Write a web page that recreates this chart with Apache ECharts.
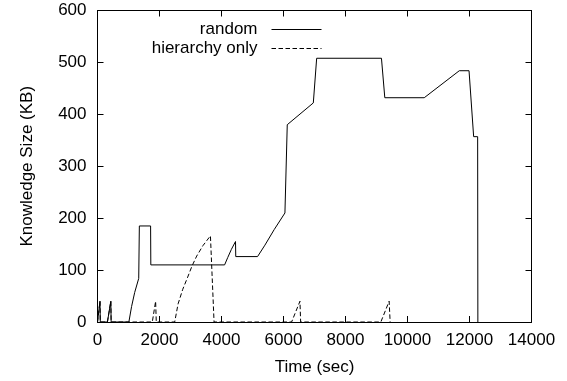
<!DOCTYPE html>
<html>
<head>
<meta charset="utf-8">
<script src="https://cdn.jsdelivr.net/npm/echarts@6/dist/echarts.min.js"></script>
<style>
html,body{margin:0;padding:0;background:#fff;}
#c{width:567px;height:381px;}
</style>
</head>
<body>
<div id="c"></div>
<script>
const xTicks = [0, 2000, 4000, 6000, 8000, 10000, 12000, 14000];
const yTicks = [0, 100, 200, 300, 400, 500, 600];

const randomTime = [0, 80, 90, 320, 430, 440, 1012, 1100, 1200, 1330, 1350, 1713, 1720, 4100, 4200, 4320, 4452, 4460, 5163, 5400, 5700, 6046, 6121, 6962, 7070, 9160, 9268, 10540, 11671, 11985, 12134, 12263, 12270];
const randomSize = [0, 40, 0, 0, 40, 0, 0, 30, 57, 84, 185, 185, 110, 110, 124, 140, 155, 126, 126, 148, 178, 210, 380, 422, 508, 508, 432, 432, 484, 484, 357, 357, 0];

const hierTime = [0, 80, 90, 320, 430, 440, 1768, 1875, 1896, 2490, 2600, 2750, 2900, 3050, 3200, 3400, 3643, 3760, 6262, 6531, 6553, 9140, 9408, 9440];
const hierSize = [0, 40, 0, 0, 40, 0, 0, 40, 0, 0, 35, 63, 85, 108, 127, 147, 166, 0, 0, 40, 0, 0, 40, 0];

const FONT = 'Liberation Sans';
const pair = (xs, ys) => xs.map((x, i) => [x, ys[i]]);
const plain = v => String(v);

const chart = echarts.init(document.getElementById('c'), null, {renderer: 'canvas'});
const tickCommon = {show: true, inside: true, length: 6, lineStyle: {color: '#000', width: 1}};
const lineCommon = {show: true, onZero: false, lineStyle: {color: '#000', width: 1}};
chart.setOption({
  animation: false,
  backgroundColor: '#fff',
  grid: {left: 97.5, right: 35.5, top: 10.5, bottom: 56.5, containLabel: false},
  legend: {
    orient: 'vertical',
    right: 245,
    top: 21,
    padding: 0,
    align: 'right',
    itemWidth: 50,
    itemHeight: 17,
    itemGap: 2,
    itemStyle: {opacity: 0},
    lineStyle: {width: 1},
    textStyle: {fontFamily: FONT, fontSize: 17, color: '#000', padding: [0, 9, 0, 0]},
    data: ['random', 'hierarchy only']
  },
  xAxis: [{
    type: 'value', min: xTicks[0], max: xTicks[xTicks.length - 1], interval: 2000, z: 10,
    name: 'Time (sec)', nameLocation: 'middle', nameGap: 37,
    nameTextStyle: {fontFamily: FONT, fontSize: 17, color: '#000'},
    axisLine: lineCommon, axisTick: tickCommon,
    axisLabel: {fontFamily: FONT, fontSize: 17, color: '#000', margin: 10, formatter: plain},
    splitLine: {show: false}
  }, {
    type: 'value', position: 'top', min: xTicks[0], max: xTicks[xTicks.length - 1], interval: 2000, z: 10,
    axisLine: lineCommon, axisTick: tickCommon, axisLabel: {show: false}, splitLine: {show: false}
  }],
  yAxis: [{
    type: 'value', min: yTicks[0], max: yTicks[yTicks.length - 1], interval: 100, z: 10,
    name: 'Knowledge Size (KB)', nameLocation: 'middle', nameGap: 62,
    nameTextStyle: {fontFamily: FONT, fontSize: 17, color: '#000'},
    axisLine: lineCommon, axisTick: tickCommon,
    axisLabel: {fontFamily: FONT, fontSize: 17, color: '#000', margin: 11, formatter: plain},
    splitLine: {show: false}
  }, {
    type: 'value', position: 'right', min: yTicks[0], max: yTicks[yTicks.length - 1], interval: 100, z: 10,
    axisLine: lineCommon, axisTick: tickCommon, axisLabel: {show: false}, splitLine: {show: false}
  }],
  series: [{
    name: 'random', type: 'line', symbol: 'none', showSymbol: false,
    data: pair(randomTime, randomSize),
    lineStyle: {color: '#000', width: 1, type: 'solid'},
    itemStyle: {color: '#000'}, z: 3
  }, {
    name: 'hierarchy only', type: 'line', symbol: 'none', showSymbol: false,
    data: pair(hierTime, hierSize),
    lineStyle: {color: '#000', width: 1, type: [4.5, 2.5]},
    itemStyle: {color: '#000'}, z: 2
  }]
});
</script>
</body>
</html>
